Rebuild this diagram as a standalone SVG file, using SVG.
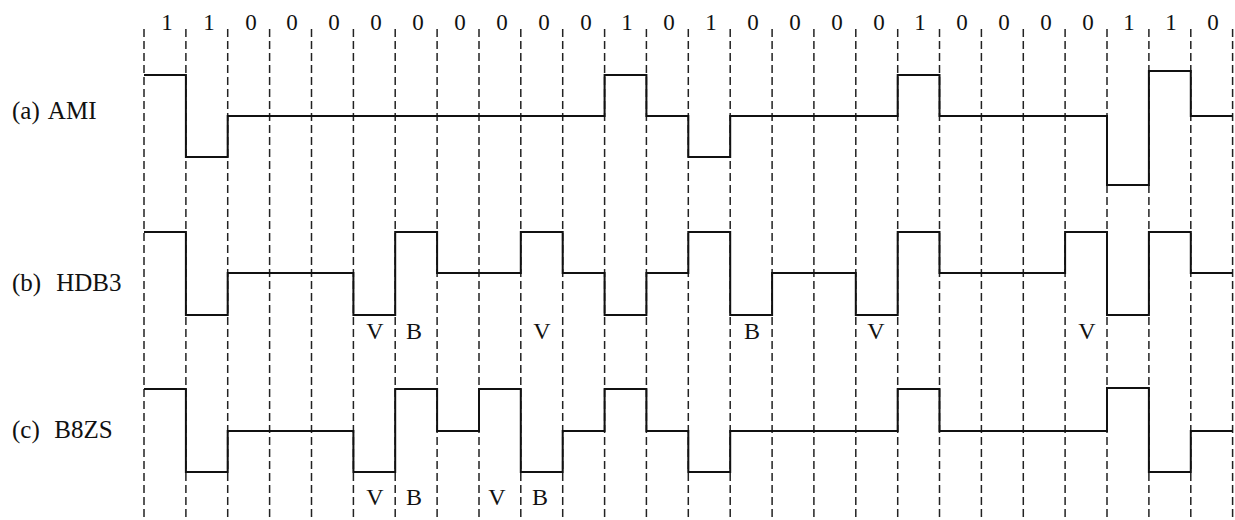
<svg xmlns="http://www.w3.org/2000/svg" width="1235" height="520" viewBox="0 0 1235 520">
  <style>
    .grid line { stroke: #222; stroke-width: 1.5; stroke-dasharray: 8 4; }
    .wave { fill: none; stroke: #111; stroke-width: 2; stroke-linejoin: miter; }
    .bit { font-family: "Liberation Serif", "Times New Roman", serif; font-size: 23px; fill: #111; text-anchor: middle; }
    .name { font-family: "Liberation Serif", "Times New Roman", serif; font-size: 25px; fill: #111; }
    .mark { font-family: "Liberation Serif", "Times New Roman", serif; font-size: 24px; fill: #111; text-anchor: middle; }
  </style>
  <rect width="1235" height="520" fill="#fff"/>

  <!-- bit-period boundaries -->
  <g id="grid" class="grid">
    <line x1="144" y1="29" x2="144" y2="520"/>
    <line x1="185.9" y1="29" x2="185.9" y2="520"/>
    <line x1="227.7" y1="29" x2="227.7" y2="520"/>
    <line x1="269.6" y1="29" x2="269.6" y2="520"/>
    <line x1="311.5" y1="29" x2="311.5" y2="520"/>
    <line x1="353.4" y1="29" x2="353.4" y2="520"/>
    <line x1="395.2" y1="29" x2="395.2" y2="520"/>
    <line x1="437.1" y1="29" x2="437.1" y2="520"/>
    <line x1="479" y1="29" x2="479" y2="520"/>
    <line x1="520.8" y1="29" x2="520.8" y2="520"/>
    <line x1="562.7" y1="29" x2="562.7" y2="520"/>
    <line x1="604.6" y1="29" x2="604.6" y2="520"/>
    <line x1="646.4" y1="29" x2="646.4" y2="520"/>
    <line x1="688.3" y1="29" x2="688.3" y2="520"/>
    <line x1="730.2" y1="29" x2="730.2" y2="520"/>
    <line x1="772.1" y1="29" x2="772.1" y2="520"/>
    <line x1="813.9" y1="29" x2="813.9" y2="520"/>
    <line x1="855.8" y1="29" x2="855.8" y2="520"/>
    <line x1="897.7" y1="29" x2="897.7" y2="520"/>
    <line x1="939.5" y1="29" x2="939.5" y2="520"/>
    <line x1="981.4" y1="29" x2="981.4" y2="520"/>
    <line x1="1023.3" y1="29" x2="1023.3" y2="520"/>
    <line x1="1065.1" y1="29" x2="1065.1" y2="520"/>
    <line x1="1107" y1="29" x2="1107" y2="520"/>
    <line x1="1148.9" y1="29" x2="1148.9" y2="520"/>
    <line x1="1190.8" y1="29" x2="1190.8" y2="520"/>
    <line x1="1232.6" y1="29" x2="1232.6" y2="520"/>
  </g>

  <!-- input bit sequence -->
  <g id="bits" class="bit">
    <text x="167" y="30">1</text>
    <text x="209" y="30">1</text>
    <text x="251" y="30">0</text>
    <text x="292" y="30">0</text>
    <text x="334" y="30">0</text>
    <text x="376" y="30">0</text>
    <text x="418" y="30">0</text>
    <text x="460" y="30">0</text>
    <text x="502" y="30">0</text>
    <text x="544" y="30">0</text>
    <text x="586" y="30">0</text>
    <text x="627" y="30">1</text>
    <text x="669" y="30">0</text>
    <text x="711" y="30">1</text>
    <text x="753" y="30">0</text>
    <text x="795" y="30">0</text>
    <text x="837" y="30">0</text>
    <text x="879" y="30">0</text>
    <text x="920" y="30">1</text>
    <text x="962" y="30">0</text>
    <text x="1004" y="30">0</text>
    <text x="1046" y="30">0</text>
    <text x="1088" y="30">0</text>
    <text x="1129" y="30">1</text>
    <text x="1171" y="30">1</text>
    <text x="1213" y="30">0</text>
  </g>

  <!-- (a) AMI -->
  <g id="ami">
    <text class="name" x="12" y="119">(a)<tspan x="43"> AMI</tspan></text>
    <path class="wave" d="M144,75 H185.9 V157 H227.7 V116 H604.6 V75 H646.4 V116 H688.3 V157 H730.2 V116 H897.7 V75 H939.5 V116 H1107 V185 H1148.9 V71 H1190.8 V116 H1232.6"/>
  </g>

  <!-- (b) HDB3 -->
  <g id="hdb3">
    <text class="name" x="12" y="291">(b)<tspan x="50"> HDB3</tspan></text>
    <path class="wave" d="M144,232 H185.9 V315 H227.7 V273 H353.4 V315 H395.2 V232 H437.1 V273 H520.8 V232 H562.7 V273 H604.6 V315 H646.4 V273 H688.3 V232 H730.2 V315 H772.1 V273 H855.8 V315 H897.7 V232 H939.5 V273 H1065.1 V232 H1107 V315 H1148.9 V232 H1190.8 V273 H1232.6"/>
    <g class="mark">
      <text x="375" y="339">V</text>
      <text x="414" y="339">B</text>
      <text x="542" y="339">V</text>
      <text x="752" y="339">B</text>
      <text x="876" y="339">V</text>
      <text x="1087" y="339">V</text>
    </g>
  </g>

  <!-- (c) B8ZS -->
  <g id="b8zs">
    <text class="name" x="12" y="438">(c)<tspan x="48"> B8ZS</tspan></text>
    <path class="wave" d="M144,389 H185.9 V472 H227.7 V431 H353.4 V472 H395.2 V389 H437.1 V431 H479 V389 H520.8 V472 H562.7 V431 H604.6 V389 H646.4 V431 H688.3 V472 H730.2 V431 H897.7 V389 H939.5 V431 H1107 V388 H1148.9 V472 H1190.8 V431 H1232.6"/>
    <g class="mark">
      <text x="375" y="505">V</text>
      <text x="414" y="505">B</text>
      <text x="497" y="505">V</text>
      <text x="540" y="505">B</text>
    </g>
  </g>
</svg>
